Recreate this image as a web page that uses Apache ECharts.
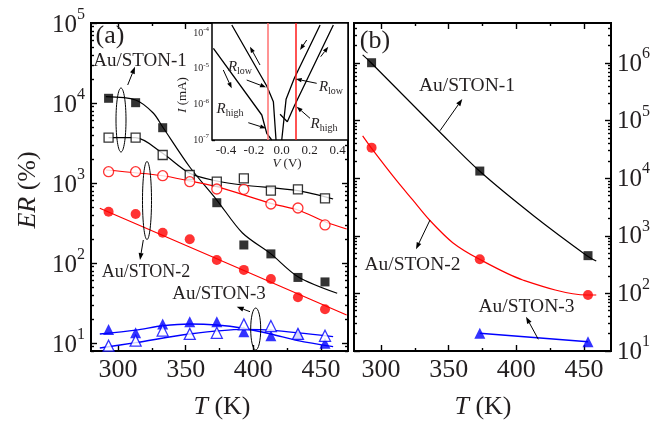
<!DOCTYPE html>
<html><head><meta charset="utf-8">
<script src="https://cdn.jsdelivr.net/npm/echarts@6/dist/echarts.min.js"></script>
<style>html,body{margin:0;padding:0;background:#fff}#c{width:668px;height:421px}</style>
</head><body><div id="c"></div>
<script>
// ---------------- data ----------------
// panel (a): temperature (K)
const T = [293, 313, 333, 353, 373, 393, 413, 433, 453];
const ston1Filled = [11450, 10090, 4910, null, 567, 168, 130, 66, 58];
const ston1Open   = [3685, 3685, 2239, 1259, 1038, 1145, 801, 834, 644];
const ston2Open   = [1384, 1384, 1233, 1038, 841, 834, 546, 487, 299];
const ston2Filled = [438, 410, 239, 198, 109, 82, 63, 37.3, 26.4];
const ston3Filled = [14.8, 13.4, 17.3, 18.5, 18.5, 13.8, 12.3, 13, 9.9];
const ston3Open   = [9.25, 10.7, 14.3, 13, 13.4, 17.1, 16.3, 13, 12.3];
// panel (a): fitted curves
const fit1FilledT = [291, 313, 326, 333, 353, 373, 392, 413, 433, 462];
const fit1FilledV = [12000, 10900, 7500, 5012, 1585, 613, 237, 130, 67.4, 41.8];
const fit1OpenT = [293, 313, 333, 353, 373, 392, 433, 459];
const fit1OpenV = [3685, 3685, 2350, 1322, 1059, 944, 801, 631];
const fit2OpenT = [291, 333, 353, 373, 413, 433, 453, 469];
const fit2OpenV = [1453, 1233, 1059, 899, 557, 460, 328, 266];
const fit2FilledT = [286.5, 373, 469];
const fit2FilledV = [483, 113, 22.4];
const fit3FilledT = [286.5, 313, 333, 353, 373, 392.5, 413, 433, 459];
const fit3FilledV = [12.96, 14.5, 16.4, 17.3, 16.8, 15.3, 12.96, 10.7, 9.0];
const fit3OpenT = [286.5, 313, 353, 392.5, 413, 459];
const fit3OpenV = [8.66, 10.1, 12.96, 14.8, 14.5, 12.0];
// panel (b)
const TR = [293, 373, 453];
const rSton1 = [1.01e6, 13300, 452];
const rSton2 = [33900, 391, 93.8];
const rSton3T = [373, 453];
const rSton3 = [20.3, 14.5];
const rFit1T = [286.4, 292.6, 343.2, 372.8, 413, 452.2, 459.1];
const rFit1V = [1.38e6, 1.01e6, 64100, 13300, 2210, 452, 365];
const rFit2T = [286.4, 292.6, 311.1, 323.4, 335.8, 353, 372.8, 404.8, 452.2, 459.1];
const rFit2V = [54100, 33900, 9310, 4190, 1880, 760, 391, 171, 93.8, 93.8];
// inset: I-V curves (V in volts, I in mA)
const ivUpLeftV = [-0.358, -0.1075, -0.060, -0.041];
const ivUpLeftI = [1.67e-4, 3.27e-6, 1.19e-6, 1e-7];
const ivLowLeftV = [-0.490, -0.143, -0.1075, -0.072];
const ivLowLeftI = [3.72e-5, 5.02e-7, 1.54e-7, 1e-7];
const ivUpRightV = [0.0, 0.031, 0.090, 0.275];
const ivUpRightI = [1e-7, 1.38e-6, 5.37e-6, 1.67e-4];
const ivLowRightV = [-0.012, 0.040, 0.090, 0.370];
const ivLowRightI = [5.25e-7, 3.26e-7, 8.97e-7, 1.67e-4];
const insetMarkers = [-0.1, 0.1];
// tick labels
const xMajorTicks = [300, 350, 400, 450];
const xMinorTicks = [325, 375, 425];
const leftDecades = [1, 2, 3, 4, 5];
const rightDecades = [1, 2, 3, 4, 5, 6];
const insetDecades = [-7, -6, -5, -4];
const insetXTicks = [-0.4, -0.2, 0, 0.2, 0.4];
const insetXMinor = [-0.3, -0.1, 0.1, 0.3];

// ---------------- helpers ----------------
const FONT = "'Liberation Serif', 'Times New Roman', serif";
const TXT = '#231f20';
const pairs = (xs, ys) => xs.map((x, i) => [x, ys[i]]).filter(p => p[1] != null);
function minorLogs(lo, hi) {
  const out = [];
  for (let n = Math.floor(lo); n < hi; n++) for (let k = 2; k <= 9; k++) {
    const v = n + Math.log10(k); if (v > lo && v < hi) out.push(v);
  }
  return out;
}
const L_LO = 0.9, L_HI = 5, R_LO = 1, R_HI = 6.694, I_LO = -7, I_HI = -3.72;
const X_MIN = 280, X_MAX = 470;

function tickAxis(extra, ticks, len, label) {
  return Object.assign({
    type: 'value', splitLine: {show: false}, axisLine: {show: false, onZero: false},
    axisTick: {show: true, inside: true, length: len, customValues: ticks, lineStyle: {color: '#000', width: 1.4}},
    axisLabel: label ? label : {show: false}
  }, extra);
}
function decLabel(vals, fs, ss, lh, margin, pad) {
  return {
    show: true, customValues: vals, margin: margin, padding: pad || 0,
    formatter: v => '{b|10}{s|' + Math.round(v) + '}',
    rich: {
      b: {fontSize: fs, fontFamily: FONT, color: TXT, lineHeight: lh},
      s: {fontSize: ss, fontFamily: FONT, color: TXT, verticalAlign: 'top', lineHeight: ss}
    }
  };
}
const xLabel = {show: true, customValues: xMajorTicks, margin: 6, fontSize: 26, fontFamily: FONT, color: TXT};

const xAxis = [
  tickAxis({gridIndex: 0, position: 'bottom', min: X_MIN, max: X_MAX}, xMajorTicks, 6, xLabel),
  tickAxis({gridIndex: 0, position: 'bottom', min: X_MIN, max: X_MAX}, xMinorTicks, 3),
  tickAxis({gridIndex: 0, position: 'top', min: X_MIN, max: X_MAX}, xMajorTicks, 6),
  tickAxis({gridIndex: 0, position: 'top', min: X_MIN, max: X_MAX}, xMinorTicks, 3),
  tickAxis({gridIndex: 1, position: 'bottom', min: X_MIN, max: X_MAX}, xMajorTicks, 6, xLabel),
  tickAxis({gridIndex: 1, position: 'bottom', min: X_MIN, max: X_MAX}, xMinorTicks, 3),
  tickAxis({gridIndex: 1, position: 'top', min: X_MIN, max: X_MAX}, xMajorTicks, 6),
  tickAxis({gridIndex: 1, position: 'top', min: X_MIN, max: X_MAX}, xMinorTicks, 3),
  tickAxis({gridIndex: 2, position: 'bottom', min: -0.5, max: 0.475}, insetXTicks, 3,
    {show: true, customValues: insetXTicks, margin: 4, fontSize: 13, fontFamily: FONT, color: TXT,
     formatter: v => v.toFixed(1)}),
  tickAxis({gridIndex: 2, position: 'bottom', min: -0.5, max: 0.475}, insetXMinor, 2)
];
const hiddenLog = (g, pos, lo, hi) => ({
  type: 'log', gridIndex: g, position: pos, min: Math.pow(10, lo), max: Math.pow(10, hi),
  axisLine: {show: false}, axisTick: {show: false}, axisLabel: {show: false}, splitLine: {show: false}
});
const yAxis = [
  hiddenLog(0, 'left', L_LO, L_HI),
  tickAxis({gridIndex: 0, position: 'left', min: L_LO, max: L_HI}, leftDecades, 6, decLabel(leftDecades, 25, 16, 36, 6, [4, 0, 0, 0])),
  tickAxis({gridIndex: 0, position: 'left', min: L_LO, max: L_HI}, minorLogs(L_LO, L_HI), 3),
  tickAxis({gridIndex: 0, position: 'right', min: L_LO, max: L_HI}, leftDecades, 6),
  tickAxis({gridIndex: 0, position: 'right', min: L_LO, max: L_HI}, minorLogs(L_LO, L_HI), 3),
  hiddenLog(1, 'left', R_LO, R_HI),
  tickAxis({gridIndex: 1, position: 'right', min: R_LO, max: R_HI}, rightDecades, 6, decLabel(rightDecades, 25, 16, 36, 6, [2, 0, 0, 0])),
  tickAxis({gridIndex: 1, position: 'right', min: R_LO, max: R_HI}, minorLogs(R_LO, R_HI), 3),
  tickAxis({gridIndex: 1, position: 'left', min: R_LO, max: R_HI}, rightDecades, 6),
  tickAxis({gridIndex: 1, position: 'left', min: R_LO, max: R_HI}, minorLogs(R_LO, R_HI), 3),
  hiddenLog(2, 'left', I_LO, I_HI),
  tickAxis({gridIndex: 2, position: 'left', min: I_LO, max: I_HI}, insetDecades, 3, decLabel(insetDecades, 10, 7, 14, 3))
];

function fit(xi, yi, xs, ys, color, width, smooth) {
  return {type: 'line', xAxisIndex: xi, yAxisIndex: yi, data: pairs(xs, ys), symbol: 'none',
    smooth: smooth ? 0.3 : false, lineStyle: {color: color, width: width},
    silent: true, z: 2, animation: false};
}
function pts(xi, yi, xs, ys, symbol, size, color, open) {
  return {type: 'scatter', xAxisIndex: xi, yAxisIndex: yi, data: pairs(xs, ys), symbol: symbol, symbolSize: size,
    itemStyle: open ? {color: '#fff', borderColor: color, borderWidth: 1.3} : {color: color},
    silent: true, z: 4, animation: false};
}
const RED = '#ff0000', BLUE = '#0000ff', BLK = '#000';

const series = [
  fit(0, 0, fit1FilledT, fit1FilledV, BLK, 1.2, true),
  fit(0, 0, fit1OpenT, fit1OpenV, BLK, 1.2, true),
  fit(0, 0, fit2OpenT, fit2OpenV, RED, 1.2, true),
  fit(0, 0, fit2FilledT, fit2FilledV, RED, 1.2, false),
  fit(0, 0, fit3FilledT, fit3FilledV, BLUE, 1.4, true),
  fit(0, 0, fit3OpenT, fit3OpenV, BLUE, 1.4, true),
  pts(0, 0, T, ston1Filled, 'rect', 9, BLK, false),
  pts(0, 0, T, ston1Open, 'rect', 9, BLK, true),
  pts(0, 0, T, ston2Open, 'circle', 10, RED, true),
  pts(0, 0, T, ston2Filled, 'circle', 10, RED, false),
  pts(0, 0, T, ston3Filled, 'triangle', 11, BLUE, false),
  pts(0, 0, T, ston3Open, 'triangle', 11, BLUE, true),
  fit(4, 5, rFit1T, rFit1V, BLK, 1.2, true),
  fit(4, 5, rFit2T, rFit2V, RED, 1.2, true),
  fit(4, 5, rSton3T, rSton3, BLUE, 1.4, false),
  pts(4, 5, TR, rSton1, 'rect', 9, BLK, false),
  pts(4, 5, TR, rSton2, 'circle', 10, RED, false),
  pts(4, 5, rSton3T, rSton3, 'triangle', 11, BLUE, false),
  Object.assign(fit(8, 10, ivUpLeftV, ivUpLeftI, BLK, 1.3, false), {
    markLine: {silent: true, symbol: ['none', 'none'], label: {show: false}, animation: false,
      lineStyle: {type: 'solid', width: 1.5},
      data: [{xAxis: insetMarkers[0], lineStyle: {color: '#ff7070', type: 'solid', width: 1.5}},
             {xAxis: insetMarkers[1], lineStyle: {color: '#ff1a1a', type: 'solid', width: 1.5}}]}
  }),
  fit(8, 10, ivLowLeftV, ivLowLeftI, BLK, 1.3, false),
  fit(8, 10, ivUpRightV, ivUpRightI, BLK, 1.3, false),
  fit(8, 10, ivLowRightV, ivLowRightI, BLK, 1.3, false)
];

// ---------------- annotations ----------------
function arrow(x1, y1, x2, y2, len, w, lw) {
  const dx = x2 - x1, dy = y2 - y1, d = Math.hypot(dx, dy), ux = dx / d, uy = dy / d;
  const bx = x2 - ux * len, by = y2 - uy * len;
  return [
    {type: 'line', z: 100, shape: {x1: x1, y1: y1, x2: bx, y2: by}, style: {stroke: '#000', lineWidth: lw}},
    {type: 'polygon', z: 100, shape: {points: [[x2, y2], [bx - uy * w, by + ux * w], [bx + uy * w, by - ux * w]]}, style: {fill: '#000'}}
  ];
}
function txt(x, y, text, size, extra) {
  return {type: 'text', z: 100, x: x, y: y, style: Object.assign({
    text: text, fontSize: size, fontFamily: FONT, fill: TXT,
    align: 'center', verticalAlign: 'middle', textAlign: 'center', textVerticalAlign: 'middle'
  }, extra || {})};
}
function ell(cx, cy, rx, ry) {
  return {type: 'ellipse', z: 100, shape: {cx: cx, cy: cy, rx: rx, ry: ry}, style: {fill: 'none', stroke: '#000', lineWidth: 1}};
}
const italicRich = size => ({i: {fontStyle: 'italic', fontSize: size, fontFamily: FONT, fill: TXT, color: TXT}});
const rRich = {
  r: {fontStyle: 'italic', fontSize: 15, fontFamily: FONT, color: TXT, lineHeight: 18},
  s: {fontSize: 10, fontFamily: FONT, color: TXT, verticalAlign: 'bottom', lineHeight: 10}
};
const graphic = [].concat(
  [
    txt(110, 36, '(a)', 26),
    txt(375, 41, '(b)', 26),
    txt(140, 61, 'Au/STON-1', 19),
    txt(146, 272.5, 'Au/STON-2', 18),
    txt(219, 294, 'Au/STON-3', 19),
    txt(467, 86, 'Au/STON-1', 19.5),
    txt(412.5, 265, 'Au/STON-2', 19.5),
    txt(526.5, 306.5, 'Au/STON-3', 19.5),
    txt(222, 407, '{i|T} (K)', 26, {rich: italicRich(26)}),
    txt(483, 407, '{i|T} (K)', 26, {rich: italicRich(26)}),
    Object.assign(txt(0, 0, '{i|ER} (%)', 26, {rich: italicRich(26)}), {x: 28, y: 190, rotation: Math.PI / 2}),
    Object.assign(txt(0, 0, '{i|I} (mA)', 13, {rich: italicRich(13)}), {x: 183, y: 95, rotation: Math.PI / 2}),
    txt(287, 164, '{i|V} (V)', 13, {rich: italicRich(13)}),
    txt(240, 67.5, '{r|R}{s|low}', 15, {rich: rRich}),
    txt(230, 109, '{r|R}{s|high}', 15, {rich: rRich}),
    txt(331, 87.5, '{r|R}{s|low}', 15, {rich: rRich}),
    txt(324, 124, '{r|R}{s|high}', 15, {rich: rRich}),
    ell(121, 120, 5, 32),
    ell(147, 200.5, 4.5, 39),
    ell(255.7, 329, 5, 21)
  ],
  arrow(127.7, 85, 135, 66.7, 7, 2.5, 1),
  arrow(143.3, 240, 140, 260, 7, 2.5, 1),
  arrow(250, 311.7, 236.7, 306.7, 7, 2.5, 1),
  arrow(440, 130.7, 462.3, 99, 7, 2.5, 1),
  arrow(430, 220, 416, 249.3, 7, 2.5, 1),
  arrow(538.3, 339.3, 526, 316.7, 7, 2.5, 1),
  arrow(260, 65, 250, 46.7, 6, 2.2, 1),
  arrow(223.3, 70, 231.7, 88.3, 6, 2.2, 1),
  arrow(246.7, 80, 266, 87.3, 6, 2.2, 1),
  arrow(248.3, 122.7, 266, 128.3, 6, 2.2, 1),
  arrow(306.7, 40, 300, 50, 6, 2.2, 1),
  arrow(320.7, 56.7, 328.3, 46.7, 6, 2.2, 1),
  arrow(316.7, 83.3, 295.7, 79, 6, 2.2, 1),
  arrow(310, 118.3, 296.7, 106.7, 6, 2.2, 1)
);

const option = {
  animation: false,
  backgroundColor: '#fff',
  textStyle: {fontFamily: FONT},
  grid: [
    {left: 91, top: 23, width: 257, height: 328, show: true, borderColor: '#000', borderWidth: 2, backgroundColor: 'transparent', outerBoundsMode: 'none', containLabel: false},
    {left: 354, top: 23, width: 257, height: 328, show: true, borderColor: '#000', borderWidth: 2, backgroundColor: 'transparent', outerBoundsMode: 'none', containLabel: false},
    {left: 212, top: 23, width: 136, height: 117, show: true, borderColor: '#000', borderWidth: 1.5, backgroundColor: '#fff', outerBoundsMode: 'none', containLabel: false, z: 1}
  ],
  xAxis: xAxis,
  yAxis: yAxis,
  series: series,
  graphic: graphic
};
const chart = echarts.init(document.getElementById('c'), null, {renderer: 'canvas'});
chart.setOption(option);
</script>
</body></html>
